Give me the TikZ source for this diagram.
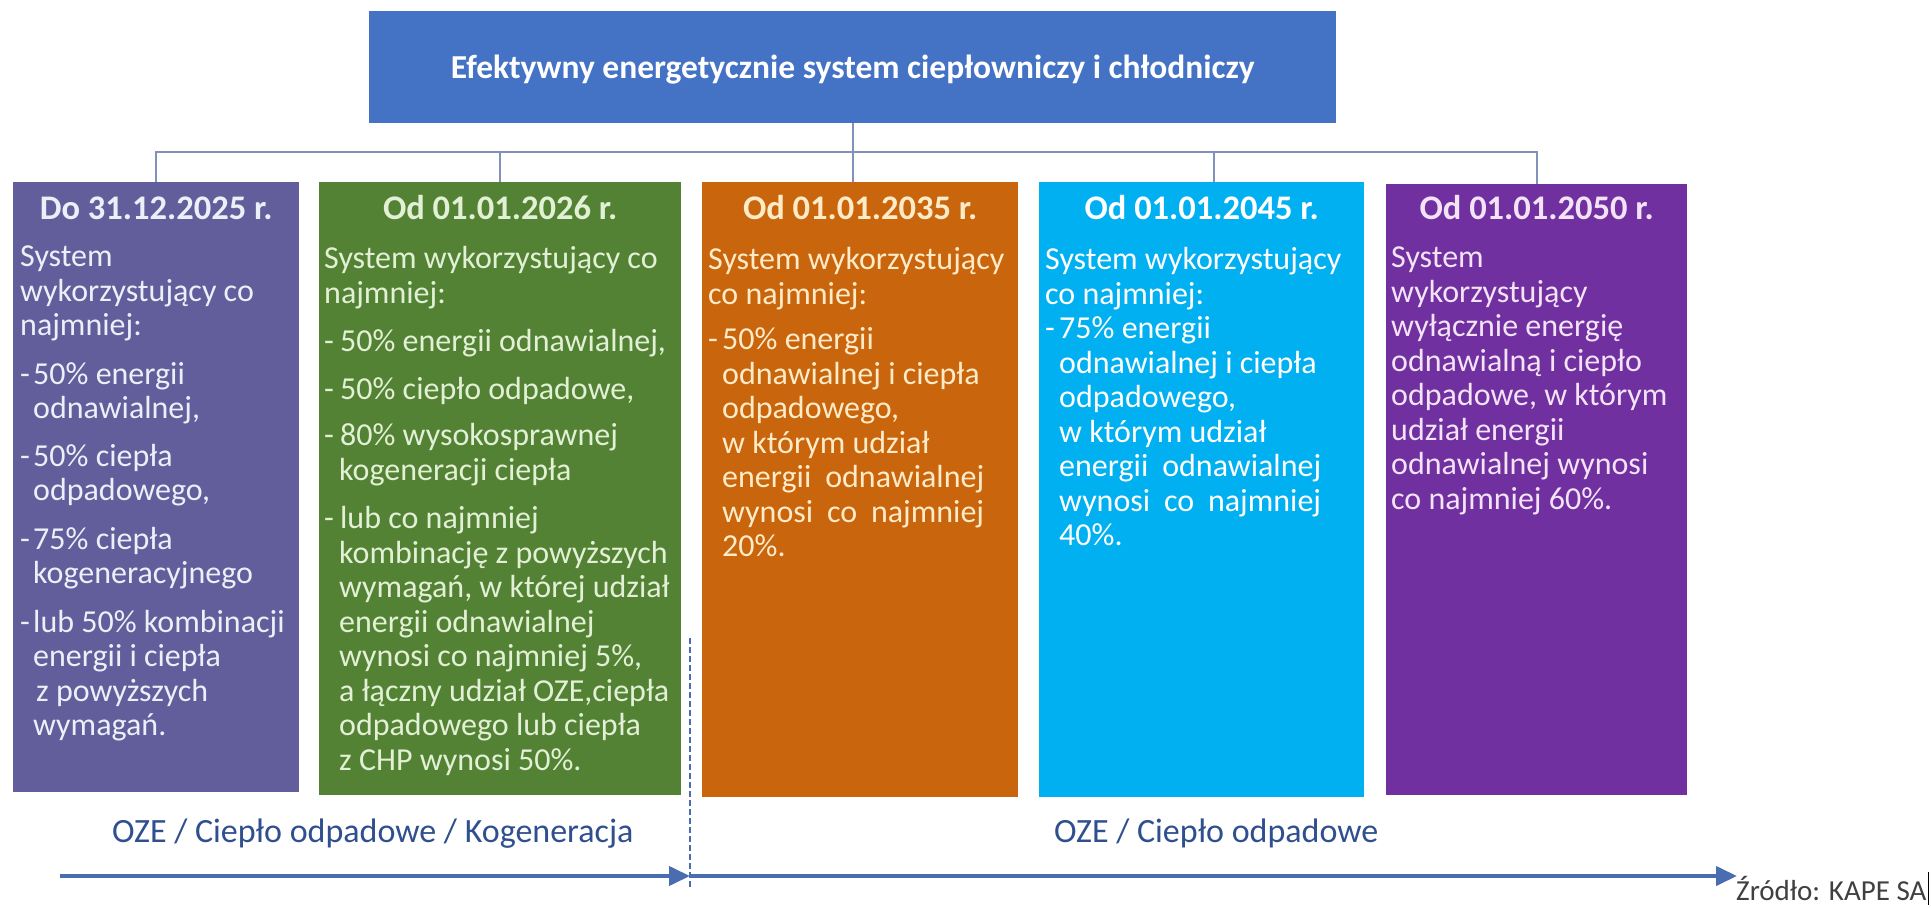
\documentclass[tikz,border=0pt]{standalone}
\usepackage{fontspec}
\setmainfont{Carlito}
\usetikzlibrary{arrows.meta}

\definecolor{topblue}{HTML}{4472C4}
\definecolor{slate}{HTML}{615E9B}
\definecolor{leaf}{HTML}{548235}
\definecolor{rust}{HTML}{C9650C}
\definecolor{sky}{HTML}{00B0F0}
\definecolor{plum}{HTML}{7030A0}
\definecolor{linkgrey}{HTML}{8290BC}
\definecolor{axisblue}{HTML}{4A6CB0}
\definecolor{labelblue}{HTML}{2F4F8F}
\definecolor{srcgrey}{HTML}{404040}
\definecolor{txtslate}{HTML}{EEEEF8}
\definecolor{txtleaf}{HTML}{E2F0D5}
\definecolor{txtrust}{HTML}{FFEBC8}
\definecolor{txtsky}{HTML}{FFFFFF}
\definecolor{txtplum}{HTML}{F3E3F7}

% bullet dash and continuation indent inside the column texts
\newcommand{\bdash}[1]{\makebox[#1pt][l]{-}}
\newcommand{\bindent}[1]{\hspace*{#1pt}}
\newcommand{\coltext}[1]{\begin{minipage}[t]{380pt}\fontsize{32}{34.5}\selectfont #1\end{minipage}}

\begin{document}
\begin{tikzpicture}[x=1pt,y=-1pt,
  panel/.style={draw=none, inner sep=0pt, anchor=north west},
  conn/.style={draw=linkgrey, line width=2pt},
  hdr/.style={anchor=base, inner sep=0pt, font=\fontsize{34.5}{38}\selectfont\bfseries},
  body/.style={anchor=base west, inner sep=0pt},
  axis/.style={draw=axisblue, line width=4pt, -{Triangle[length=21pt,width=19pt]}},
  divider/.style={draw=axisblue, line width=2pt, dash pattern=on 6pt off 3pt},
  period/.style={anchor=base west, inner sep=0pt, text=labelblue, font=\fontsize{34}{38}\selectfont},
]
\useasboundingbox (0,0) rectangle (1931,909);
\fill[white] (0,0) rectangle (1931,909);

% heading box
\node[panel, fill=topblue, minimum width=967pt, minimum height=112pt] (top) at (369,11) {};
\node[inner sep=0pt, text=white, font=\fontsize{33.5}{38}\selectfont\bfseries] (title) at ([yshift=-2pt]top.center)
  {Efektywny energetycznie system ciepłowniczy i chłodniczy};

% period columns
\node[panel, fill=slate, minimum width=286pt, minimum height=610pt] (b1) at (13,182) {};
\node[panel, fill=leaf,  minimum width=362pt, minimum height=613pt] (b2) at (319,182) {};
\node[panel, fill=rust,  minimum width=316pt, minimum height=615pt] (b3) at (702,182) {};
\node[panel, fill=sky,   minimum width=325pt, minimum height=615pt] (b4) at (1039,182) {};
\node[panel, fill=plum,  minimum width=301pt, minimum height=611pt] (b5) at (1386,184) {};

% tree connectors
\coordinate (bus) at (0,152);
\draw[conn] (top.south) -- (top.south |- b3.north);
\draw[conn] (b1.north) -- (b1.north |- bus) -- (b5.north |- bus) -- (b5.north);
\draw[conn] (b2.north) -- (b2.north |- bus);
\draw[conn] ([xshift=12pt]b4.north) -- ([xshift=12pt]b4.north |- bus);

% column headings
\path (b1.north) ++(0,38) node[hdr, text=txtslate] (h1) {Do 31.12.2025 r.};
\path (b2.north) ++(0,38) node[hdr, text=txtleaf]  (h2) {Od 01.01.2026 r.};
\path (b3.north) ++(0,38) node[hdr, text=txtrust]  (h3) {Od 01.01.2035 r.};
\path (b4.north) ++(0,38) node[hdr, text=txtsky]   (h4) {Od 01.01.2045 r.};
\path (b5.north) ++(0,36) node[hdr, text=txtplum]  (h5) {Od 01.01.2050 r.};

% column texts
\path (b1.north west) ++(7,85) node[body, text=txtslate] (t1) {\coltext{%
System\\
wykorzystujący co\\
najmniej:\\[14pt]
\bdash{13}50\% energii\\
\bindent{13}odnawialnej,\\[13pt]
\bdash{13}50\% ciepła\\
\bindent{13}odpadowego,\\[14pt]
\bdash{13}75\% ciepła\\
\bindent{13}kogeneracyjnego\\[14pt]
\bdash{13}lub 50\% kombinacji\\
\bindent{13}energii i ciepła\\
\bindent{16}z powyższych\\
\bindent{13}wymagań.}};

\path (b2.north west) ++(5,87) node[body, text=txtleaf] (t2) {\coltext{%
System wykorzystujący co\\
najmniej:\\[14pt]
\bdash{16}50\% energii odnawialnej,\\[13pt]
\bdash{16}50\% ciepło odpadowe,\\[12pt]
\bdash{16}80\% wysokosprawnej\\
\bindent{15}kogeneracji ciepła\\[14pt]
\bdash{16}lub co najmniej\\
\bindent{15}kombinację z powyższych\\
\bindent{15}wymagań, w której udział\\
\bindent{15}energii odnawialnej\\
\bindent{15}wynosi co najmniej 5\%,\\
\bindent{15}a łączny udział OZE,ciepła\\
\bindent{15}odpadowego lub ciepła\\
\bindent{15}z CHP wynosi 50\%.}};

\path (b3.north west) ++(6,88) node[body, text=txtrust] (t3) {\coltext{%
System wykorzystujący\\
co najmniej:\\[11pt]
\bdash{14}50\% energii\\
\bindent{14}odnawialnej i ciepła\\
\bindent{14}odpadowego,\\
\bindent{14}w którym udział\\
\bindent{14}\makebox[262pt][s]{energii odnawialnej}\\
\bindent{14}\makebox[262pt][s]{wynosi co najmniej}\\
\bindent{14}20\%.}};

\path (b4.north west) ++(6,88) node[body, text=txtsky] (t4) {\coltext{%
System wykorzystujący\\
co najmniej:\\
\bdash{14}75\% energii\\
\bindent{14}odnawialnej i ciepła\\
\bindent{14}odpadowego,\\
\bindent{14}w którym udział\\
\bindent{14}\makebox[262pt][s]{energii odnawialnej}\\
\bindent{14}\makebox[262pt][s]{wynosi co najmniej}\\
\bindent{14}40\%.}};

\path (b5.north west) ++(5,84) node[body, text=txtplum] (t5) {\coltext{%
System\\
wykorzystujący\\
wyłącznie energię\\
odnawialną i ciepło\\
odpadowe, w którym\\
udział energii\\
odnawialnej wynosi\\
co najmniej 60\%.}};

% time axis
\coordinate (t0) at (60,876);
\coordinate (tmid) at (690,876);
\coordinate (tend) at (1737,876);
\coordinate (d0) at (690,638);
\coordinate (d1) at (690,887);
\draw[divider] (d0) -- (d1);
\draw[axis] (t0) -- (tmid);
\draw[axis] (tmid) -- (tend);

\node[period] (p1) at (112,842) {OZE / Ciepło odpadowe / Kogeneracja};
\node[period] (p2) at (1054,842) {OZE / Ciepło odpadowe};

% source note
\node[anchor=base west, inner sep=0pt, text=srcgrey, font=\fontsize{29}{32}\selectfont] (src) at (1736,900) {Źródło: KAPE SA};
\draw[black, line width=1pt] ([xshift=2pt]src.east |- 0,872) -- ([xshift=2pt]src.east |- 0,905);
\end{tikzpicture}
\end{document}
